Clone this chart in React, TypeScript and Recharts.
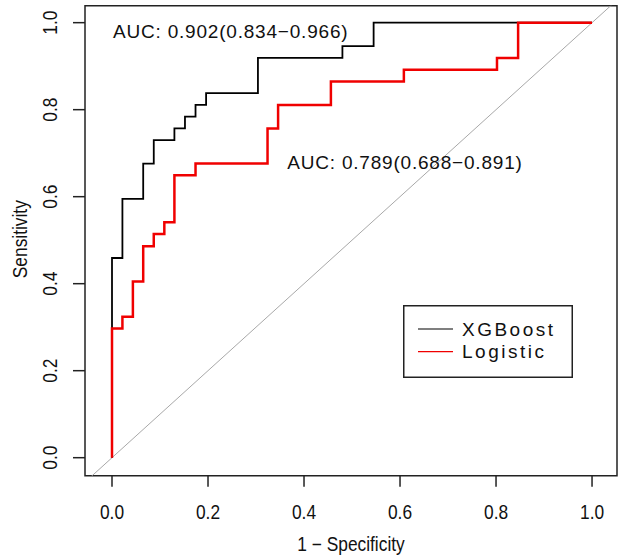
import React from 'react';
import { ComposedChart, Line, XAxis, YAxis, ReferenceArea, ReferenceDot, Legend } from 'recharts';

// ROC corner points (1 - specificity, sensitivity)
const xgbFpr = [0, 0, 0.0217, 0.065, 0.087, 0.130, 0.152, 0.174, 0.196, 0.304, 0.480, 0.545, 1.0];
const xgbSens = [0, 0.459, 0.595, 0.676, 0.730, 0.757, 0.784, 0.811, 0.838, 0.919, 0.946, 1.0, 1.0];

const logFpr = [0, 0, 0.0217, 0.0435, 0.065, 0.087, 0.109, 0.130, 0.174, 0.324, 0.346, 0.456, 0.608, 0.802, 0.846, 1.0];
const logSens = [0, 0.297, 0.324, 0.405, 0.486, 0.514, 0.541, 0.649, 0.676, 0.757, 0.811, 0.865, 0.892, 0.919, 1.0, 1.0];

const diagEnds = [-0.1, 1.1];

const xTicks = [0, 0.2, 0.4, 0.6, 0.8, 1.0];
const yTicks = [0, 0.2, 0.4, 0.6, 0.8, 1.0];
const xDomain = [-0.05625, 1.052];
const yDomain = [-0.0414, 1.039];

const seriesNames = ['XGBoost', 'Logistic'];
const seriesColors = ['#000000', '#f00000'];
const aucLabels = ['AUC: 0.902(0.834\u22120.966)', 'AUC: 0.789(0.688\u22120.891)'];
const aucX = [0.002, 0.365];
const aucY = [0.981, 0.679];

const FONT = '"Liberation Sans", Arial, Helvetica, sans-serif';
const INK = '#111111';
const AXIS_FONT = 19.5;
const SQUEEZE = 0.89;

const zip = (xs: number[], ys: number[]) => xs.map((x, i) => ({ x, y: ys[i] }));
const xgbData = zip(xgbFpr, xgbSens);
const logData = zip(logFpr, logSens);
const diagData = zip(diagEnds, diagEnds);

const XTick = (p: any) => (
  <text
    transform={`translate(${p.x}, ${p.y}) scale(${SQUEEZE}, 1)`}
    x={0}
    y={0}
    textAnchor="middle"
    dy="0.71em"
    fontSize={AXIS_FONT}
    fill={INK}
    fontFamily={FONT}
  >
    {Number(p.payload.value).toFixed(1)}
  </text>
);

const YTick = (p: any) => (
  <text
    transform={`translate(${p.x}, ${p.y}) rotate(-90) scale(${SQUEEZE}, 1)`}
    x={0}
    y={0}
    textAnchor="middle"
    dy="0.35em"
    fontSize={AXIS_FONT}
    fill={INK}
    fontFamily={FONT}
  >
    {Number(p.payload.value).toFixed(1)}
  </text>
);

const XLabel = (p: any) => {
  const vb = p.viewBox;
  const cx = vb.x + vb.width / 2;
  const by = vb.y + vb.height - 8;
  return (
    <text
      transform={`translate(${cx}, ${by}) scale(${SQUEEZE}, 1)`}
      x={0}
      y={0}
      textAnchor="middle"
      fontSize={AXIS_FONT}
      fill={INK}
      fontFamily={FONT}
    >
      1 − Specificity
    </text>
  );
};

const YLabel = (p: any) => {
  const vb = p.viewBox;
  const cx = vb.x + 19.7;
  const cy = vb.y + vb.height / 2 - 1.5;
  return (
    <text
      transform={`translate(${cx}, ${cy}) rotate(-90) scale(${SQUEEZE}, 1)`}
      x={0}
      y={0}
      textAnchor="middle"
      dy="0.35em"
      fontSize={AXIS_FONT}
      fill={INK}
      fontFamily={FONT}
    >
      Sensitivity
    </text>
  );
};

const aucLabelRenderer = (text: string) => (p: any) => {
  const vb = p.viewBox;
  return (
    <text x={vb.x} y={vb.y} dy="0.35em" textAnchor="start" fontSize={19} letterSpacing={0.8} fill={INK} fontFamily={FONT}>
      {text}
    </text>
  );
};

const LegendBox = () => (
  <svg width={170} height={73} style={{ display: 'block' }}>
    <rect x={0.75} y={0.75} width={168.5} height={71.5} fill="#ffffff" stroke="#222" strokeWidth={1.5} />
    {seriesNames.map((name, i) => {
      const cy = 24 + i * 22.7;
      return (
        <g key={name}>
          <line x1={15} x2={50} y1={cy} y2={cy} stroke={seriesColors[i]} strokeWidth={1.2} />
          <text x={59} y={cy} dy="0.35em" fontSize={19} letterSpacing={2.5} fill={INK} fontFamily={FONT}>
            {name}
          </text>
        </g>
      );
    })}
  </svg>
);

export default function App() {
  return (
    <div style={{ position: 'absolute', left: 0, top: 0, width: 630, height: 559, background: '#fff' }}>
      <ComposedChart width={630} height={559} margin={{ top: 5.7, right: 13, bottom: 0, left: 0 }}>
        <XAxis
          type="number"
          dataKey="x"
          domain={xDomain}
          allowDataOverflow
          ticks={xTicks}
          height={83.3}
          axisLine={false}
          tickSize={11}
          tickMargin={18}
          tickLine={{ stroke: '#222', strokeWidth: 1.5 }}
          tick={<XTick />}
          label={<XLabel />}
        />
        <YAxis
          type="number"
          dataKey="y"
          domain={yDomain}
          allowDataOverflow
          ticks={yTicks}
          width={85}
          axisLine={false}
          tickSize={12}
          tickMargin={23}
          tickLine={{ stroke: '#222', strokeWidth: 1.5 }}
          tick={<YTick />}
          label={<YLabel />}
        />
        <Line
          data={diagData}
          dataKey="y"
          type="linear"
          stroke="#a8a8a8"
          strokeWidth={1}
          dot={false}
          activeDot={false}
          legendType="none"
          isAnimationActive={false}
        />
        <Line
          data={xgbData}
          dataKey="y"
          name={seriesNames[0]}
          type="stepAfter"
          stroke={seriesColors[0]}
          strokeWidth={1.8}
          dot={false}
          activeDot={false}
          isAnimationActive={false}
        />
        <Line
          data={logData}
          dataKey="y"
          name={seriesNames[1]}
          type="stepAfter"
          stroke={seriesColors[1]}
          strokeWidth={2.5}
          dot={false}
          activeDot={false}
          isAnimationActive={false}
        />
        <ReferenceArea
          x1={xDomain[0]}
          x2={xDomain[1]}
          y1={yDomain[0]}
          y2={yDomain[1]}
          fill="none"
          fillOpacity={0}
          stroke="#222"
          strokeWidth={1.5}
          ifOverflow="visible"
        />
        {aucLabels.map((t, i) => (
          <ReferenceDot
            key={t}
            x={aucX[i]}
            y={aucY[i]}
            r={0}
            fill="none"
            stroke="none"
            ifOverflow="visible"
            label={aucLabelRenderer(t)}
          />
        ))}
        <Legend
          layout="horizontal"
          verticalAlign="middle"
          align="center"
          wrapperStyle={{ position: 'absolute', left: 403, top: 305, width: 170, height: 73 }}
          content={() => <LegendBox />}
        />
      </ComposedChart>
    </div>
  );
}
